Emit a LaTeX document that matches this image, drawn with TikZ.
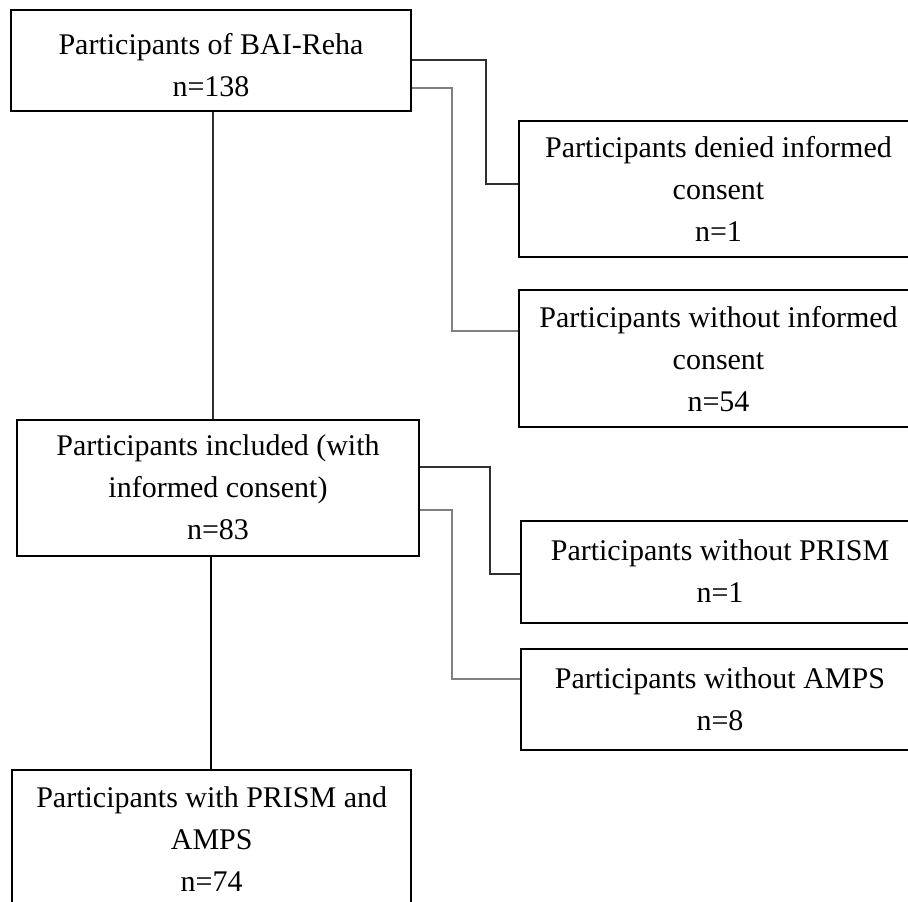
\documentclass[tikz,border=0pt]{standalone}
\usepackage{fontspec}
\setmainfont{Liberation Serif}
\usetikzlibrary{fit}
\definecolor{darkline}{HTML}{303030}
\definecolor{greyline}{HTML}{808080}
\begin{document}
\begin{tikzpicture}[x=0.75pt,y=-0.75pt,
  box/.style={draw=black,line width=2.2pt,inner sep=0pt,fill=none},
  txt/.style={inner sep=0pt,align=center,anchor=north,font=\fontsize{22.5}{31.5}\selectfont},
  thinlink/.style={draw=darkline,line width=1.1pt},
  greylink/.style={draw=greyline,line width=1.5pt},
  midlink/.style={draw=darkline,line width=1.5pt},
  thicklink/.style={draw=black,line width=2.2pt}]
\useasboundingbox (0,0) rectangle (908,902);
% boxes
\node[box,fit={(11,10)(411,111)}] (b1) {};
\node[box,fit={(519,121)(918,257)}] (b2) {};
\node[box,fit={(519,290)(918,427)}] (b3) {};
\node[box,fit={(17,420)(419,556)}] (b4) {};
\node[box,fit={(521,521)(919,623)}] (b5) {};
\node[box,fit={(521,649)(919,750)}] (b6) {};
\node[box,fit={(12,770)(411,914)}] (b7) {};
% texts
\node[txt] (t1) at (211,33) {Participants of BAI-Reha\\n=138};
\node[txt] (t2) at (718.5,136.5) {Participants denied informed\\consent\\n=1};
\node[txt] (t3) at (718.5,306.5) {Participants without informed\\consent\\n=54};
\node[txt] (t4) at (218,434.5) {Participants included (with\\informed consent)\\n=83};
\node[txt] (t5) at (720,539.5) {Participants without PRISM\\n=1};
\node[txt] (t6) at (720,667.5) {Participants without AMPS\\n=8};
\node[txt] (t7) at (211.7,786.5) {Participants with PRISM and\\AMPS\\n=74};
% bend points
\coordinate (a1) at (486,60);
\coordinate (a2) at (486,184);
\coordinate (c1) at (452,88);
\coordinate (c2) at (452,331);
\coordinate (m1) at (213,0);
\coordinate (d1) at (490,467);
\coordinate (d2) at (490,574);
\coordinate (e1) at (452,510);
\coordinate (e2) at (452,679);
\coordinate (f1) at (211,0);
% connectors
\draw[thinlink] (b1.east |- a1) -- (a1) -- (a2) -- (b2.west |- a2);
\draw[greylink] (b1.east |- c1) -- (c1) -- (c2) -- (b3.west |- c2);
\draw[midlink] (b1.south -| m1) -- (b4.north -| m1);
\draw[thinlink] (b4.east |- d1) -- (d1) -- (d2) -- (b5.west |- d2);
\draw[greylink] (b4.east |- e1) -- (e1) -- (e2) -- (b6.west |- e2);
\draw[thicklink] (b4.south -| f1) -- (b7.north -| f1);
\end{tikzpicture}
\end{document}
